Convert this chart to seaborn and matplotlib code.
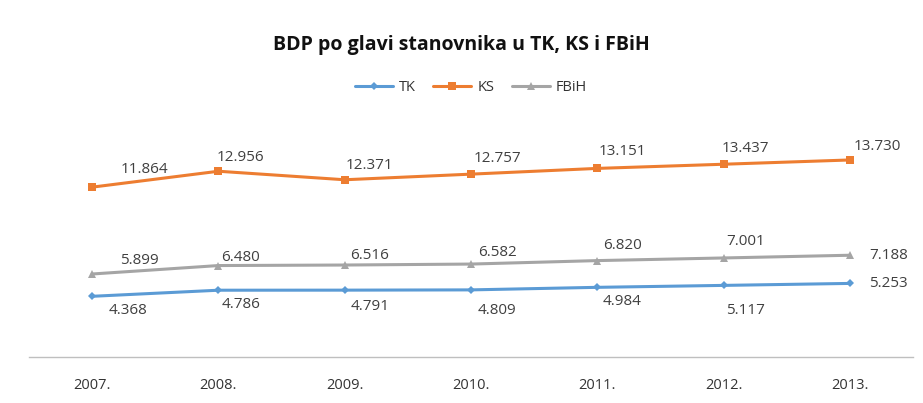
import pandas as pd
import numpy as np
import seaborn as sns
import matplotlib.pyplot as plt

years = ["2007.", "2008.", "2009.", "2010.", "2011.", "2012.", "2013."]
tk = [4.368, 4.786, 4.791, 4.809, 4.984, 5.117, 5.253]
ks = [11.864, 12.956, 12.371, 12.757, 13.151, 13.437, 13.730]
fbih = [5.899, 6.480, 6.516, 6.582, 6.820, 7.001, 7.188]
series = ["TK", "KS", "FBiH"]

df = pd.DataFrame({"godina": years * 3,
                   "serija": ["TK"] * 7 + ["KS"] * 7 + ["FBiH"] * 7,
                   "bdp": tk + ks + fbih})
df["x"] = list(range(7)) * 3

sns.set_style("white")
plt.rcParams['font.family'] = ['Open Sans', 'DejaVu Sans']

colors = {"TK": "#5B9BD5", "KS": "#ED7D31", "FBiH": "#A5A5A5"}
markers = {"TK": "D", "KS": "s", "FBiH": "^"}
msize = {"TK": 4, "KS": 6, "FBiH": 6}

fig = plt.figure(figsize=(9.23, 4.03), dpi=100)
ax = fig.add_axes([29 / 923, 46 / 403, 884 / 923, 233 / 403])

for s in series:
    d = df[df.serija == s]
    sns.lineplot(data=d, x="x", y="bdp", ax=ax, color=colors[s], marker=markers[s],
                 markersize=msize[s], markeredgewidth=0, linewidth=2.2, label=s)

# label offsets in points (dx, dy)
offs = {
    "KS": [(38, 13), (16, 10), (18, 10), (19, 11), (18, 12), (16, 11), (20, 10)],
    "FBiH": [(34, 10), (16, 6), (18, 7), (19, 8), (18, 11), (16, 12), (28, 0)],
    "TK": [(26, -10), (16, -10), (18, -12), (19, -15), (18, -10), (16, -18), (28, 0)],
}
vals = {"TK": tk, "KS": ks, "FBiH": fbih}
for s in series:
    for i, v in enumerate(vals[s]):
        dx, dy = offs[s][i]
        ax.annotate(f"{v:.3f}", (i, v), xytext=(dx, dy), textcoords="offset points",
                    ha="center", va="center", fontsize=11, color="#404040")

ax.set_xlim(-0.5, 6.5)
ax.set_ylim(0.2, 16.2)
ax.set_xticks(range(7))
ax.set_xticklabels(years, fontsize=10.5, color="#333333")
ax.tick_params(axis="x", length=0, pad=15)
ax.set_yticks([])
ax.set_xlabel("")
ax.set_ylabel("")
for sp in ["top", "left", "right"]:
    ax.spines[sp].set_visible(False)
ax.spines["bottom"].set_color("#BFBFBF")
ax.spines["bottom"].set_linewidth(1)

ax.legend(loc="center", bbox_to_anchor=(0.5, 1.155), ncol=3, frameon=False,
          fontsize=10.5, handlelength=2.6, columnspacing=1.2, handletextpad=0.4,
          labelcolor="#333333")
fig.text(0.5, 1 - 45 / 403, "BDP po glavi stanovnika u TK, KS i FBiH",
         ha="center", va="center", fontsize=14, fontweight="bold", color="#111111")

fig.savefig("out.png", dpi=100)
